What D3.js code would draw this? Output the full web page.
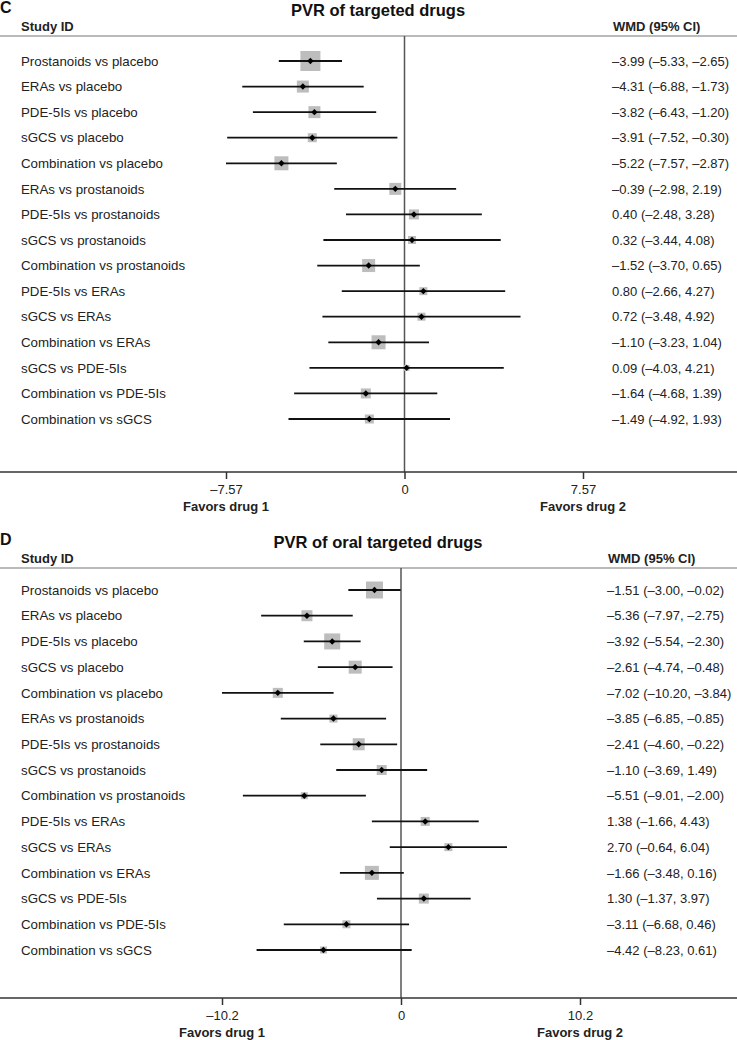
<!DOCTYPE html>
<html>
<head>
<meta charset="utf-8">
<script src="https://cdnjs.cloudflare.com/ajax/libs/d3/7.8.5/d3.min.js"></script>
<style>
  body { margin: 0; background: #fff; }
  svg { font-family: "Liberation Sans", Arial, sans-serif; }
  .lab { font-size: 13.3px; fill: #222; }
  .val { font-size: 13px; fill: #222; }
  .hdr { font-size: 13px; font-weight: bold; fill: #222; }
  .ttl { font-size: 16.5px; font-weight: bold; fill: #111; }
  .pan { font-size: 16px; font-weight: bold; fill: #111; }
  .tick text { font-size: 13px; fill: #222; font-family: "Liberation Sans", Arial, sans-serif; }
</style>
</head>
<body>
<svg width="737" height="1040"></svg>
<script>
var labels = ["Prostanoids vs placebo", "ERAs vs placebo", "PDE-5Is vs placebo", "sGCS vs placebo",
  "Combination vs placebo", "ERAs vs prostanoids", "PDE-5Is vs prostanoids", "sGCS vs prostanoids",
  "Combination vs prostanoids", "PDE-5Is vs ERAs", "sGCS vs ERAs", "Combination vs ERAs",
  "sGCS vs PDE-5Is", "Combination vs PDE-5Is", "Combination vs sGCS"];

// panel C: PVR of targeted drugs
var estC = [-3.99, -4.31, -3.82, -3.91, -5.22, -0.39, 0.40, 0.32, -1.52, 0.80, 0.72, -1.10, 0.09, -1.64, -1.49];
var lowC = [-5.33, -6.88, -6.43, -7.52, -7.57, -2.98, -2.48, -3.44, -3.70, -2.66, -3.48, -3.23, -4.03, -4.68, -4.92];
var highC = [-2.65, -1.73, -1.20, -0.30, -2.87, 2.19, 3.28, 4.08, 0.65, 4.27, 4.92, 1.04, 4.21, 1.39, 1.93];
var wC = [20, 12, 12, 9, 14, 12, 10, 8, 13, 8, 8, 14, 6, 10, 9];
var ticksC = [-7.57, 0, 7.57];

// panel D: PVR of oral targeted drugs
var estD = [-1.51, -5.36, -3.92, -2.61, -7.02, -3.85, -2.41, -1.10, -5.51, 1.38, 2.70, -1.66, 1.30, -3.11, -4.42];
var lowD = [-3.00, -7.97, -5.54, -4.74, -10.20, -6.85, -4.60, -3.69, -9.01, -1.66, -0.64, -3.48, -1.37, -6.68, -8.23];
var highD = [-0.02, -2.75, -2.30, -0.48, -3.84, -0.85, -0.22, 1.49, -2.00, 4.43, 6.04, 0.16, 3.97, 0.46, 0.61];
var wD = [17, 11, 16, 13, 10, 8, 12, 10, 7, 9, 8, 14, 10, 8, 7];
var ticksD = [-10.2, 0, 10.2];

var svg = d3.select("svg");
var W = 737;

var fmt = function(v) { return v.toFixed(2).replace("-", "\u2013"); };
var fmtTick = function(v) { return v === 0 ? "0" : String(v).replace("-", "\u2013"); };

// hy = y of header rule, axisY = y of bottom axis, vx = x of the WMD column
var drawPanel = function(letter, title, est, low, high, wt, ticks, hy, x0, x1, rowTop, rowBot, axisY, vx)
{
  var g = svg.append("g");
  var x = d3.scaleLinear().domain([ticks[0], ticks[2]]).range([x0, x1]);
  var y = d3.scalePoint().domain(labels).range([rowTop, rowBot]);

  g.append("text").attr("class", "pan").attr("x", 0).attr("y", hy - 23).text(letter);
  g.append("text").attr("class", "ttl").attr("x", 378).attr("y", hy - 20)
    .attr("text-anchor", "middle").text(title);
  g.append("text").attr("class", "hdr").attr("x", 21).attr("y", hy - 5).text("Study ID");
  g.append("text").attr("class", "hdr").attr("x", vx + 1).attr("y", hy - 5).text("WMD (95% CI)");

  g.append("line").attr("x1", 0).attr("x2", W).attr("y1", hy).attr("y2", hy)
    .attr("stroke", "#777").attr("stroke-width", 1.2);

  // zero line
  g.append("line").attr("x1", x(0)).attr("x2", x(0)).attr("y1", hy).attr("y2", axisY)
    .attr("stroke", "#555").attr("stroke-width", 1.5);

  // axis
  var ax = g.append("g").attr("transform", "translate(0," + axisY + ")")
    .call(d3.axisBottom(x).tickValues(ticks).tickFormat(fmtTick).tickSize(7).tickPadding(6).tickSizeOuter(0));
  ax.select(".domain").remove();
  ax.selectAll(".tick line").attr("stroke", "#333").attr("stroke-width", 1.5);
  g.append("line").attr("x1", 0).attr("x2", W).attr("y1", axisY).attr("y2", axisY)
    .attr("stroke", "#333").attr("stroke-width", 1.4);

  g.append("text").attr("class", "hdr").attr("x", x(ticks[0])).attr("y", axisY + 39)
    .attr("text-anchor", "middle").text("Favors drug 1");
  g.append("text").attr("class", "hdr").attr("x", x(ticks[2])).attr("y", axisY + 39)
    .attr("text-anchor", "middle").text("Favors drug 2");

  var rows = labels.map(function(d, i) {
    return { label: d, est: est[i], low: low[i], high: high[i], w: wt[i] };
  });

  g.selectAll(".rl").data(rows).enter().append("text").attr("class", "lab")
    .attr("x", 21).attr("y", function(d) { return y(d.label) + 4.7; })
    .text(function(d) { return d.label; });

  g.selectAll(".rv").data(rows).enter().append("text").attr("class", "val")
    .attr("x", vx).attr("y", function(d) { return y(d.label) + 4.7; })
    .text(function(d) { return fmt(d.est) + " (" + fmt(d.low) + ", " + fmt(d.high) + ")"; });

  g.selectAll(".bx").data(rows).enter().append("rect")
    .attr("x", function(d) { return x(d.est) - d.w / 2; })
    .attr("y", function(d) { return y(d.label) - d.w / 2; })
    .attr("width", function(d) { return d.w; })
    .attr("height", function(d) { return d.w; })
    .attr("fill", "#bdbdbd");

  g.selectAll(".ci").data(rows).enter().append("line")
    .attr("x1", function(d) { return x(d.low); })
    .attr("x2", function(d) { return x(d.high); })
    .attr("y1", function(d) { return y(d.label); })
    .attr("y2", function(d) { return y(d.label); })
    .attr("stroke", "#111").attr("stroke-width", 1.8);

  g.selectAll(".dm").data(rows).enter().append("path")
    .attr("d", function(d) {
      var cx = x(d.est), cy = y(d.label), r = 3.2;
      return "M" + (cx - r) + "," + cy + "L" + cx + "," + (cy - r) + "L" + (cx + r) + "," + cy + "L" + cx + "," + (cy + r) + "Z";
    })
    .attr("fill", "#000");
};

drawPanel("C", "PVR of targeted drugs", estC, lowC, highC, wC, ticksC, 36, 226, 583, 61, 419, 472, 612);
drawPanel("D", "PVR of oral targeted drugs", estD, lowD, highD, wD, ticksD, 568, 222, 580, 590, 950, 998, 607);
</script>
</body>
</html>
